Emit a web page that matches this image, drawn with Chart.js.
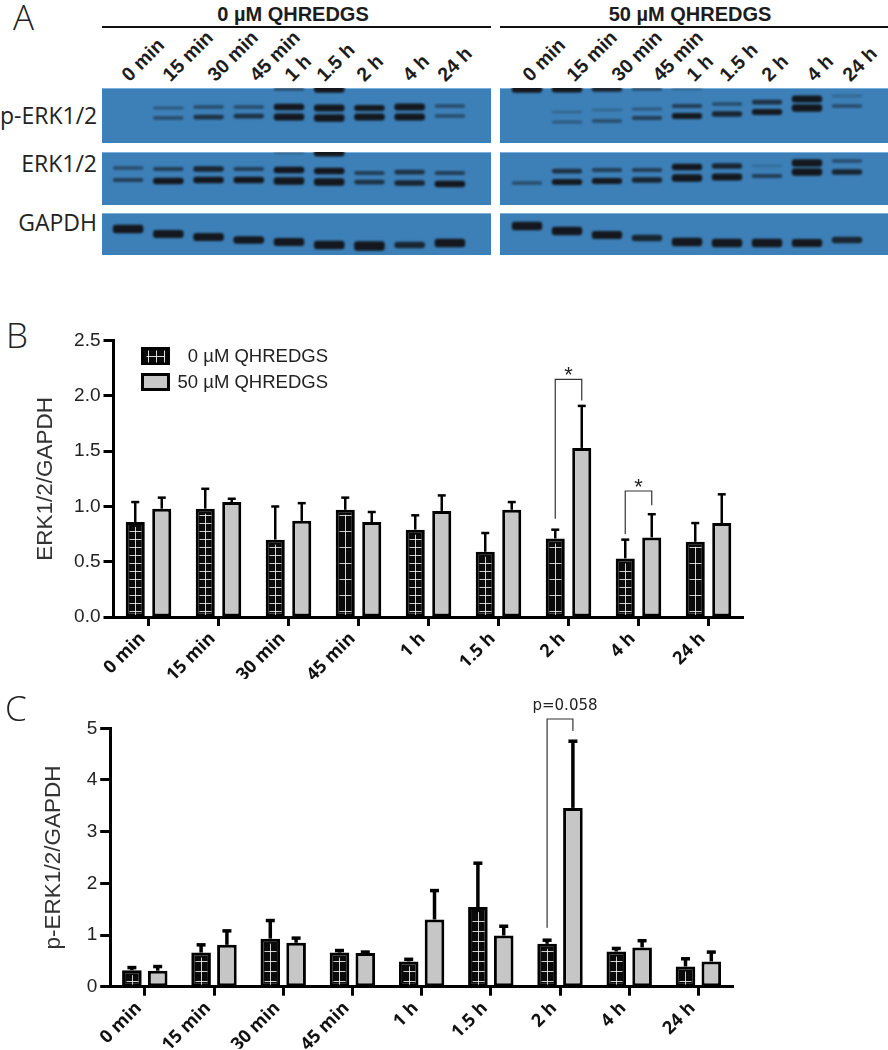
<!DOCTYPE html>
<html>
<head>
<meta charset="utf-8">
<title>ERK1/2 QHREDGS</title>
<script src="https://cdn.jsdelivr.net/npm/chart.js@4/dist/chart.umd.min.js"></script>
<style>
  html, body { margin: 0; padding: 0; background: #fff; }
  #page { position: relative; width: 888px; height: 1050px; overflow: hidden; font-family: "Liberation Sans", Arial, sans-serif; color: #1c1c1c; }
  #page canvas { position: absolute; display: block; }
  .blot { background: #3d80b8; box-shadow: inset 0 1px 0 #7db0da; }
  .txt { position: absolute; white-space: nowrap; line-height: 1; }
  .letter { font: 300 35px "Open Sans", sans-serif; color: #222; }
  .rowName { font: 23px "Open Sans", sans-serif; color: #222; text-align: right; width: 97px; left: 0; }
  .dose { font: bold 20px "Liberation Sans", Arial, sans-serif; transform: translateX(-50%); }
  .rule { position: absolute; height: 2px; background: #111; top: 26px; }
  .lane { font: bold 19.5px "Liberation Sans", Arial, sans-serif; transform-origin: 0 100%; transform: rotate(-45deg); }
</style>
</head>
<body>
<div id="page"></div>
<script>
// 横轴时间点
const timePoints = ['0 min', '15 min', '30 min', '45 min', '1 h', '1.5 h', '2 h', '4 h', '24 h'];
const doseNames = ['0 µM QHREDGS', '50 µM QHREDGS'];

// panel B: bar height and top of error bar
const bCtrl = [0.86, 0.98, 0.70, 0.97, 0.79, 0.59, 0.71, 0.53, 0.68];
const bCtrlTop = [1.04, 1.16, 1.00, 1.08, 0.92, 0.76, 0.79, 0.70, 0.85];
const bTreat = [0.98, 1.04, 0.87, 0.86, 0.96, 0.97, 1.53, 0.72, 0.85];
const bTreatTop = [1.08, 1.07, 1.03, 0.95, 1.10, 1.04, 1.91, 0.93, 1.11];
const bTicks = [0, 0.5, 1.0, 1.5, 2.0, 2.5];
const bHatchGap = [8, 8, 8, 16, 8, 8, 16, 8, 16];
const bBrackets = [
    { cat: 6, left: 0.89, top: 2.15, right: 1.96, label: '*' },
    { cat: 7, left: 0.75, top: 1.14, right: 1.01, label: '*' }
];

// panel C
const cCtrl = [0.32, 0.66, 0.93, 0.66, 0.49, 1.54, 0.83, 0.68, 0.39];
const cCtrlTop = [0.37, 0.81, 1.28, 0.70, 0.53, 2.39, 0.90, 0.74, 0.54];
const cTreat = [0.31, 0.81, 0.85, 0.65, 1.30, 0.99, 3.46, 0.76, 0.49];
const cTreatTop = [0.39, 1.08, 0.94, 0.67, 1.86, 1.17, 4.75, 0.89, 0.67];
const cTicks = [0, 1, 2, 3, 4, 5];
const cHatchGap = [10, 10, 10, 10, 10, 10, 10, 10, 10];
const cBrackets = [
    { cat: 6, left: 1.14, top: 5.18, right: 4.95, label: 'p=0.058' }
];

// panel A: band position inside each blot and band strength (0-1)
const pErk0Upper = [20, 20, 19, 19, 19, 20, 20, 19, 18];
const pErk0UpperAmt = [0, 0.2, 0.3, 0.3, 0.8, 0.9, 0.7, 0.9, 0.3];
const pErk0Lower = [30, 30, 29, 28, 29, 30, 29, 29, 28];
const pErk0LowerAmt = [0, 0.3, 0.5, 0.5, 0.9, 1, 0.9, 0.9, 0.3];
const pErk0Edge = [0, 0, 0, 0, 0.3, 1, 0, 0, 0];

const erk0Upper = [16, 17, 17, 17, 18, 19, 21, 20, 21];
const erk0UpperAmt = [0.3, 0.4, 0.6, 0.4, 0.8, 0.8, 0.4, 0.5, 0.4];
const erk0Lower = [28, 29, 28, 28, 29, 30, 30, 31, 32];
const erk0LowerAmt = [0.4, 0.8, 0.8, 0.8, 1, 1, 0.5, 0.6, 0.8];
const erk0Edge = [0, 0, 0, 0, 0.1, 0.9, 0, 0, 0];

const gapdh0Band = [16, 21, 24, 27, 29, 32, 33, 32, 30];
const gapdh0Amt = [0.9, 0.8, 0.8, 0.7, 0.8, 0.9, 1, 0.6, 0.9];

const pErk50Upper = [24, 24, 22, 21, 18, 16, 14, 11, 8];
const pErk50UpperAmt = [0, 0.1, 0.1, 0.2, 0.4, 0.3, 0.5, 0.9, 0.1];
const pErk50Lower = [34, 34, 33, 30, 28, 26, 24, 20, 18];
const pErk50LowerAmt = [0, 0.2, 0.3, 0.4, 0.7, 0.6, 0.7, 1, 0.3];
const pErk50Edge = [1, 0.9, 0.6, 0.3, 0.1, 0, 0, 0, 0];

const erk50Upper = [19, 19, 18, 18, 15, 14, 14, 11, 9];
const erk50UpperAmt = [0, 0.5, 0.4, 0.4, 0.8, 0.6, 0.05, 1, 0.3];
const erk50Lower = [31, 30, 29, 28, 26, 25, 24, 20, 20];
const erk50LowerAmt = [0.3, 0.7, 0.7, 0.6, 1, 0.9, 0.4, 1, 0.6];

const gapdh50Band = [13, 18, 22, 25, 29, 30, 30, 30, 27];
const gapdh50Amt = [0.9, 0.9, 0.8, 0.6, 0.9, 0.9, 0.9, 0.8, 0.6];

const laneStart0 = [122, 163, 208, 250, 285, 317, 357, 403, 438];
const laneStart50 = [523, 567, 612, 653, 687, 720, 762, 807, 843];

const page = document.getElementById('page');

function addCanvas(left, top, width, height, cls) {
    const c = document.createElement('canvas');
    c.width = width;
    c.height = height;
    c.style.left = left + 'px';
    c.style.top = top + 'px';
    c.style.width = width + 'px';
    c.style.height = height + 'px';
    if (cls) c.className = cls;
    page.appendChild(c);
    return c;
}

function addText(text, cls, left, top) {
    const d = document.createElement('div');
    d.className = 'txt ' + cls;
    d.textContent = text;
    d.style.left = left + 'px';
    d.style.top = top + 'px';
    page.appendChild(d);
    return d;
}

// 印迹条带
const softBands = {
    id: 'softBands',
    beforeDatasetsDraw(chart) {
        chart.ctx.save();
        chart.ctx.filter = 'blur(1.2px)';
    },
    afterDatasetsDraw(chart) {
        chart.ctx.restore();
    }
};

function bandDataset(pos, amt, gain) {
    return {
        data: pos.map((p, i) => {
            const t = (2 + 5.5 * amt[i]) * gain;
            return amt[i] > 0 ? [p - t / 2, p + t / 2] : null;
        }),
        backgroundColor: amt.map(a => `rgba(20, 24, 30, ${Math.min(1, 0.15 + 1.2 * a)})`),
        borderRadius: 3,
        borderSkipped: false,
        grouped: false,
        barPercentage: 0.76,
        categoryPercentage: 1
    };
}

function drawBlot(left, top, width, height, sidePad, bands) {
    new Chart(addCanvas(left, top, width, height, 'blot'), {
        type: 'bar',
        data: { labels: timePoints, datasets: bands },
        options: {
            responsive: false,
            animation: false,
            layout: { padding: { left: sidePad[0], right: sidePad[1] } },
            plugins: { legend: { display: false }, tooltip: { enabled: false } },
            scales: {
                x: { display: false },
                y: { display: false, reverse: true, min: 0, max: height }
            }
        },
        plugins: [softBands]
    });
}

const padL = [6, 21];
const padR = [7, 21];
drawBlot(102, 88, 389, 55, padL, [bandDataset(pErk0Upper, pErk0UpperAmt, 1), bandDataset(pErk0Lower, pErk0LowerAmt, 1), bandDataset(pErk0Edge.map(() => 1), pErk0Edge, 1)]);
drawBlot(102, 152, 389, 53, padL, [bandDataset(erk0Upper, erk0UpperAmt, 1), bandDataset(erk0Lower, erk0LowerAmt, 1), bandDataset(erk0Edge.map(() => 1), erk0Edge, 1)]);
drawBlot(102, 213, 389, 42, padL, [bandDataset(gapdh0Band, gapdh0Amt, 1.25)]);
drawBlot(500, 88, 388, 55, padR, [bandDataset(pErk50Upper, pErk50UpperAmt, 1), bandDataset(pErk50Lower, pErk50LowerAmt, 1), bandDataset(pErk50Edge.map(() => 1), pErk50Edge, 1)]);
drawBlot(500, 152, 388, 53, padR, [bandDataset(erk50Upper, erk50UpperAmt, 1), bandDataset(erk50Lower, erk50LowerAmt, 1)]);
drawBlot(500, 213, 388, 42, padR, [bandDataset(gapdh50Band, gapdh50Amt, 1.25)]);

// panel A 文字
addText('A', 'letter', 13, -7);
addText(doseNames[0], 'dose', 293, 3);
addText(doseNames[1], 'dose', 690, 3);
[[102, 389], [500, 388]].forEach(r => {
    const line = document.createElement('div');
    line.className = 'rule';
    line.style.left = r[0] + 'px';
    line.style.width = r[1] + 'px';
    page.appendChild(line);
});
timePoints.forEach((t, i) => {
    addText(t, 'lane', laneStart0[i] + 11, 63);
    addText(t, 'lane', laneStart50[i] + 11, 63);
});
addText('p-ERK1/2', 'rowName', 0, 99);
addText('ERK1/2', 'rowName', 0, 147);
addText('GAPDH', 'rowName', 0, 206);

// 误差线、网格线、括号
const barExtras = {
    id: 'barExtras',
    afterDatasetsDraw(chart, args, opts) {
        const ctx = chart.ctx;
        const y = chart.scales.y;
        ctx.save();
        ctx.strokeStyle = '#000';
        chart.data.datasets.forEach((ds, d) => {
            chart.getDatasetMeta(d).data.forEach((bar, i) => {
                const tip = y.getPixelForValue(ds.errTop[i]);
                ctx.lineWidth = opts.errWidth;
                ctx.beginPath();
                ctx.moveTo(bar.x, bar.y);
                ctx.lineTo(bar.x, tip);
                ctx.stroke();
                ctx.lineWidth = opts.capHeight;
                ctx.beginPath();
                ctx.moveTo(bar.x - opts.capWidth / 2, tip);
                ctx.lineTo(bar.x + opts.capWidth / 2, tip);
                ctx.stroke();
            });
        });

        // white grid on the dark bars
        const base = y.getPixelForValue(0);
        ctx.strokeStyle = 'rgba(255, 255, 255, 0.8)';
        ctx.lineWidth = 1;
        chart.getDatasetMeta(0).data.forEach((bar, i) => {
            const x = Math.round(bar.x) + 0.5;
            ctx.beginPath();
            if (bar.y + 5 < base) {
                ctx.moveTo(x, base - 2);
                ctx.lineTo(x, bar.y + 5);
            }
            for (let h = base - 6; h > bar.y + 5; h -= opts.hatchGap[i]) {
                ctx.moveTo(x - 6, Math.round(h) + 0.5);
                ctx.lineTo(x + 6, Math.round(h) + 0.5);
            }
            ctx.stroke();
        });

        ctx.strokeStyle = '#333';
        ctx.lineWidth = 1.2;
        ctx.fillStyle = '#222';
        ctx.textAlign = 'center';
        opts.brackets.forEach(b => {
            const x0 = chart.getDatasetMeta(0).data[b.cat].x;
            const x1 = chart.getDatasetMeta(1).data[b.cat].x;
            const topY = y.getPixelForValue(b.top);
            ctx.beginPath();
            ctx.moveTo(x0, y.getPixelForValue(b.left));
            ctx.lineTo(x0, topY);
            ctx.lineTo(x1, topY);
            ctx.lineTo(x1, y.getPixelForValue(b.right));
            ctx.stroke();
            if (b.label === '*') {
                ctx.font = '22px "Liberation Sans"';
                ctx.fillText(b.label, (x0 + x1) / 2, topY + 3);
            } else {
                ctx.font = '15px "DejaVu Sans"';
                ctx.fillText(b.label, (x0 + x1) / 2 + 5, topY - 9);
            }
        });
        ctx.restore();
    }
};

// 图例 (panel B only)
const doseKey = {
    id: 'doseKey',
    afterDraw(chart, args, opts) {
        if (!opts.show) return;
        const ctx = chart.ctx;
        ctx.save();
        chart.data.datasets.forEach((ds, d) => {
            const top = opts.top + d * opts.rowGap;
            ctx.fillStyle = ds.backgroundColor;
            ctx.fillRect(opts.left, top, opts.boxW, opts.boxH);
            ctx.strokeStyle = '#000';
            ctx.lineWidth = 3;
            ctx.strokeRect(opts.left + 1.5, top + 1.5, opts.boxW - 3, opts.boxH - 3);
            if (d === 0) {
                ctx.strokeStyle = 'rgba(255, 255, 255, 0.85)';
                ctx.lineWidth = 1;
                const mx = opts.left + opts.boxW / 2, my = Math.round(top + opts.boxH / 2) + 0.5;
                ctx.beginPath();
                ctx.moveTo(mx - 9, my);
                ctx.lineTo(mx + 9, my);
                [-8, 0, 8].forEach(o => {
                    ctx.moveTo(Math.round(mx + o) + 0.5, my - 6);
                    ctx.lineTo(Math.round(mx + o) + 0.5, my + 6);
                });
                ctx.stroke();
            }
            ctx.fillStyle = '#222';
            ctx.font = '18.5px "Liberation Sans"';
            ctx.textAlign = 'right';
            ctx.textBaseline = 'middle';
            ctx.fillText(ds.label, opts.textRight, top + opts.boxH / 2 + 1);
        });
        ctx.restore();
    }
};

function drawPanel(cfg) {
    const canvas = addCanvas(0, cfg.canvasTop, 888, cfg.canvasHeight);
    const common = { borderColor: '#000', borderWidth: 3, categoryPercentage: cfg.catPct, barPercentage: cfg.barPct, borderSkipped: false };
    new Chart(canvas, {
        type: 'bar',
        data: {
            labels: timePoints,
            datasets: [
                Object.assign({ label: doseNames[0], data: cfg.ctrl, errTop: cfg.ctrlTop, backgroundColor: '#0a0a0a' }, common),
                Object.assign({ label: doseNames[1], data: cfg.treat, errTop: cfg.treatTop, backgroundColor: '#c6c6c6' }, common)
            ]
        },
        options: {
            responsive: false,
            animation: false,
            layout: { padding: { top: cfg.areaTop - cfg.canvasTop, right: 888 - cfg.areaRight, bottom: cfg.canvasTop + cfg.canvasHeight - cfg.areaBottom - 62 } },
            plugins: {
                legend: { display: false },
                tooltip: { enabled: false },
                barExtras: { errWidth: cfg.errWidth, capWidth: cfg.capWidth, capHeight: cfg.capHeight, hatchGap: cfg.hatchGap, brackets: cfg.brackets },
                doseKey: cfg.key
            },
            scales: {
                x: {
                    afterFit: s => { s.height = 62; },
                    grid: { display: true, offset: false, drawOnChartArea: false, tickColor: '#000', tickWidth: 3, tickLength: 9 },
                    border: { color: '#000', width: 3 },
                    ticks: {
                        autoSkip: false,
                        minRotation: 45,
                        maxRotation: 45,
                        padding: 2,
                        labelOffset: -6,
                        color: '#111',
                        font: { family: '"Open Sans"', weight: 'bold', size: 18 }
                    }
                },
                y: {
                    min: 0,
                    max: cfg.max,
                    afterFit: s => { s.width = cfg.areaLeft; },
                    afterBuildTicks: s => { s.ticks = cfg.ticks.map(v => ({ value: v })); },
                    grid: { display: true, drawOnChartArea: false, tickColor: '#000', tickWidth: 3, tickLength: 10 },
                    border: { color: '#000', width: 3 },
                    title: {
                        display: true,
                        text: cfg.yTitle,
                        color: '#333',
                        font: { family: '"Liberation Sans"', size: 22.5, weight: 'normal' },
                        padding: { top: cfg.titlePad, bottom: 0 }
                    },
                    ticks: {
                        padding: 3,
                        color: '#222',
                        font: { family: '"Liberation Sans"', size: 19 },
                        callback: cfg.tickText
                    }
                }
            }
        },
        plugins: [barExtras, doseKey]
    });
}

addText('B', 'letter', 6, 311);
drawPanel({
    canvasTop: 320, canvasHeight: 375,
    areaTop: 340.7, areaBottom: 617, areaLeft: 113.5, areaRight: 743.5,
    max: 2.5, ticks: bTicks, tickText: v => v.toFixed(1),
    ctrl: bCtrl, ctrlTop: bCtrlTop, treat: bTreat, treatTop: bTreatTop,
    catPct: 0.757, barPct: 0.72,
    errWidth: 2.5, capWidth: 8, capHeight: 2.5,
    hatchGap: bHatchGap, brackets: bBrackets,
    yTitle: 'ERK1/2/GAPDH', titlePad: 32,
    key: { show: true, left: 141, top: 27, boxW: 29, boxH: 18, rowGap: 26, textRight: 328 }
});

addText('C', 'letter', 5, 684);
drawPanel({
    canvasTop: 695, canvasHeight: 355,
    areaTop: 728.3, areaBottom: 986.7, areaLeft: 110.2, areaRight: 733,
    max: 5, ticks: cTicks, tickText: v => String(v),
    ctrl: cCtrl, ctrlTop: cCtrlTop, treat: cTreat, treatTop: cTreatTop,
    catPct: 0.746, barPct: 0.76,
    errWidth: 3.5, capWidth: 9, capHeight: 3.5,
    hatchGap: cHatchGap, brackets: cBrackets,
    yTitle: 'p-ERK1/2/GAPDH', titlePad: 40,
    key: { show: false }
});
</script>
</body>
</html>
